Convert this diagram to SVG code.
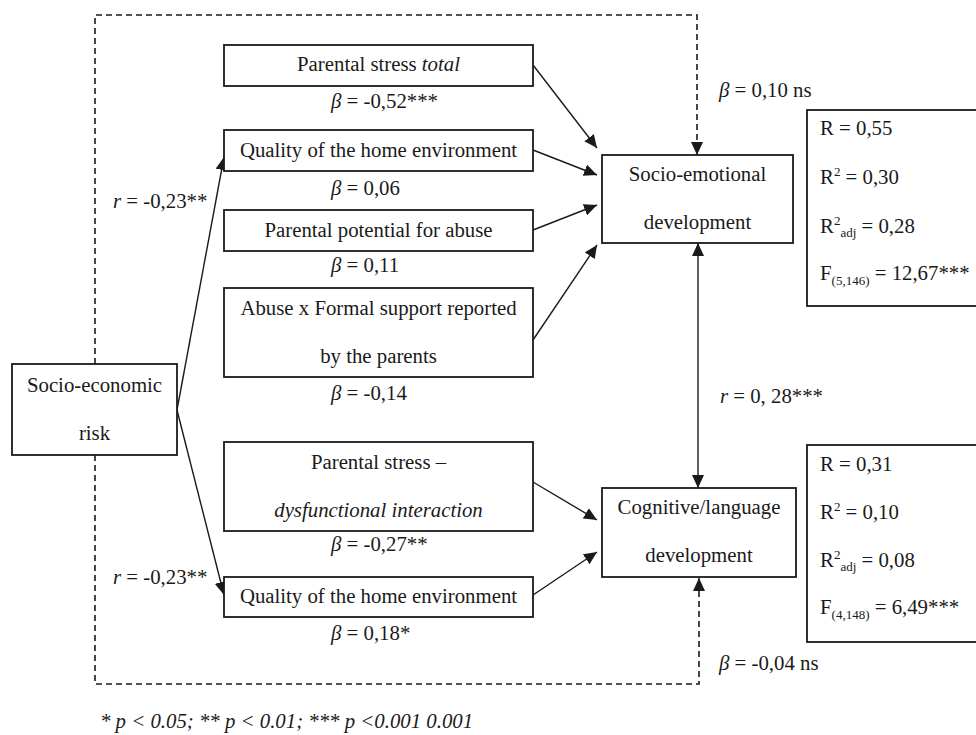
<svg xmlns="http://www.w3.org/2000/svg" width="976" height="735" viewBox="0 0 976 735">
<style>
.box{fill:#fff;stroke:#1a1a1a;stroke-width:1.8}
.t{font-family:"Liberation Serif","Times New Roman",serif;font-size:20.8px;fill:#1a1a1a}
.c{text-anchor:middle}
.i{font-style:italic}
.ln{stroke:#1a1a1a;stroke-width:1.4;fill:none}
.dash{stroke:#1a1a1a;stroke-width:1.6;fill:none;stroke-dasharray:6 4}
.sub{font-size:13px}
</style>
<defs>
<marker id="ah" markerUnits="userSpaceOnUse" markerWidth="14" markerHeight="12" refX="13" refY="6" orient="auto-start-reverse">
<path d="M0,0 L13,6 L0,12 z" fill="#1a1a1a"/>
</marker>
</defs>
<g id="connectors">
<path class="dash" d="M95,364 V15 H697 V153"/>
<path class="dash" d="M95,455 V684 H699 V580"/>
<line class="ln" x1="697" y1="150" x2="697" y2="155" marker-end="url(#ah)"/>
<line class="ln" x1="699" y1="582" x2="699" y2="578" marker-end="url(#ah)"/>
<line class="ln" x1="533" y1="65" x2="597" y2="148" marker-end="url(#ah)"/>
<line class="ln" x1="533" y1="150" x2="597" y2="175" marker-end="url(#ah)"/>
<line class="ln" x1="533" y1="230" x2="597" y2="205" marker-end="url(#ah)"/>
<line class="ln" x1="533" y1="340" x2="597" y2="245" marker-end="url(#ah)"/>
<line class="ln" x1="533" y1="482" x2="597" y2="520" marker-end="url(#ah)"/>
<line class="ln" x1="533" y1="595" x2="597" y2="552" marker-end="url(#ah)"/>
<line class="ln" x1="177" y1="410" x2="224" y2="157" marker-end="url(#ah)"/>
<line class="ln" x1="177" y1="410" x2="224" y2="595" marker-end="url(#ah)"/>
<line class="ln" x1="698" y1="243" x2="698" y2="488" marker-start="url(#ah)" marker-end="url(#ah)"/>
<text class="t" x="113" y="208"><tspan class="i">r</tspan> = -0,23**</text>
<text class="t" x="113" y="584"><tspan class="i">r</tspan> = -0,23**</text>
<text class="t" x="719" y="97"><tspan class="i">β</tspan> = 0,10 ns</text>
<text class="t" x="719" y="670"><tspan class="i">β</tspan> = -0,04 ns</text>
<text class="t" x="720" y="403"><tspan class="i">r</tspan> = 0, 28***</text>
</g>
<g id="ses">
<rect class="box" x="12" y="364" width="165" height="91"/>
<text class="t c" x="94.5" y="392">Socio-economic</text>
<text class="t c" x="94.5" y="440">risk</text>
</g>
<g id="ps-total">
<rect class="box" x="224" y="45" width="309" height="41"/>
<text class="t c" x="378.5" y="71">Parental stress <tspan class="i">total</tspan></text>
<text class="t" x="331" y="108"><tspan class="i">β</tspan> = -0,52***</text>
</g>
<g id="home1">
<rect class="box" x="224" y="130" width="309" height="41"/>
<text class="t c" x="378.5" y="157">Quality of the home environment</text>
<text class="t" x="331" y="195"><tspan class="i">β</tspan> = 0,06</text>
</g>
<g id="abuse-pot">
<rect class="box" x="224" y="210" width="309" height="41"/>
<text class="t c" x="378.5" y="237">Parental potential for abuse</text>
<text class="t" x="331" y="272"><tspan class="i">β</tspan> = 0,11</text>
</g>
<g id="abuse-support">
<rect class="box" x="224" y="288" width="309" height="89"/>
<text class="t c" x="378.5" y="315">Abuse x Formal support reported</text>
<text class="t c" x="378.5" y="363">by the parents</text>
<text class="t" x="331" y="400"><tspan class="i">β</tspan> = -0,14</text>
</g>
<g id="ps-dys">
<rect class="box" x="224" y="442" width="309" height="89"/>
<text class="t c" x="378.5" y="469">Parental stress –</text>
<text class="t c i" x="378.5" y="517">dysfunctional interaction</text>
<text class="t" x="331" y="551"><tspan class="i">β</tspan> = -0,27**</text>
</g>
<g id="home2">
<rect class="box" x="224" y="577" width="309" height="40"/>
<text class="t c" x="378.5" y="603">Quality of the home environment</text>
<text class="t" x="331" y="640"><tspan class="i">β</tspan> = 0,18*</text>
</g>
<g id="socio-emo">
<rect class="box" x="602" y="155" width="191" height="88"/>
<text class="t c" x="697.5" y="181">Socio-emotional</text>
<text class="t c" x="697.5" y="229">development</text>
</g>
<g id="cognitive">
<rect class="box" x="602" y="488" width="194" height="89"/>
<text class="t c" x="699" y="514">Cognitive/language</text>
<text class="t c" x="699" y="562">development</text>
</g>
<g id="stats1">
<rect class="box" x="807" y="110" width="175" height="196"/>
<text class="t" x="820" y="135">R = 0,55</text>
<text class="t" x="820" y="184">R<tspan class="sub" dy="-8">2</tspan><tspan dy="8"> = 0,30</tspan></text>
<text class="t" x="820" y="233">R<tspan class="sub" dy="-8">2</tspan><tspan class="sub" dy="12">adj</tspan><tspan dy="-4"> = 0,28</tspan></text>
<text class="t" x="820" y="280">F<tspan class="sub" dy="5">(5,146)</tspan><tspan dy="-5"> = 12,67***</tspan></text>
</g>
<g id="stats2">
<rect class="box" x="807" y="445" width="175" height="197"/>
<text class="t" x="820" y="471">R = 0,31</text>
<text class="t" x="820" y="519">R<tspan class="sub" dy="-8">2</tspan><tspan dy="8"> = 0,10</tspan></text>
<text class="t" x="820" y="567">R<tspan class="sub" dy="-8">2</tspan><tspan class="sub" dy="12">adj</tspan><tspan dy="-4"> = 0,08</tspan></text>
<text class="t" x="820" y="614">F<tspan class="sub" dy="5">(4,148)</tspan><tspan dy="-5"> = 6,49***</tspan></text>
</g>
<text class="t i" x="100" y="728">* p &lt; 0.05; ** p &lt; 0.01; *** p &lt;0.001 0.001</text>
</svg>
